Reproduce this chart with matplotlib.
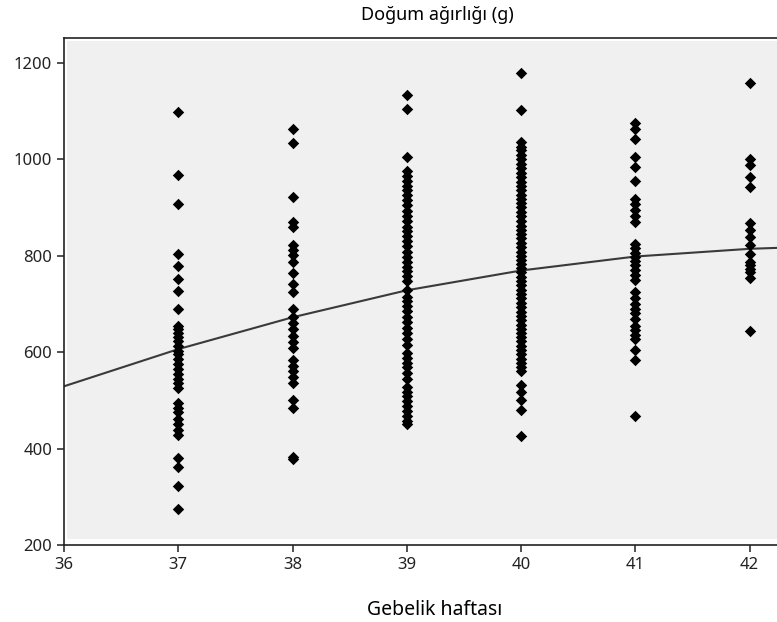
import matplotlib.pyplot as plt
from matplotlib.patches import Rectangle

# birth weight (g) per gestational week
weeks = [37, 38, 39, 40, 41, 42]

w37 = [1098, 967, 907, 803, 778, 752, 727, 690, 655, 648, 640, 632, 622, 612, 603,
       595, 585, 575, 565, 555, 545, 535, 525, 495, 485, 475, 462, 450, 438, 427,
       380, 362, 322, 274]
w38 = [1063, 1034, 922, 870, 860, 822, 811, 801, 787, 763, 742, 725, 690, 673, 660,
       647, 633, 620, 608, 583, 572, 560, 548, 535, 500, 483, 383, 378]
w39 = [1133, 1103, 1005, 975, 965, 955, 945, 935, 925, 915, 905, 893, 882, 872, 860,
       850, 840, 830, 820, 808, 797, 787, 777, 768, 758, 748, 728, 715, 705, 695,
       685, 673, 662, 650, 640, 628, 615, 598, 588, 578, 568, 557, 545, 528, 518,
       508, 498, 488, 478, 468, 458, 450]
w40 = [1178, 1101, 1035, 1026, 1018, 1009, 1000, 990, 981, 972, 962, 953, 944, 935,
       926, 918, 909, 900, 890, 881, 871, 862, 853, 844, 836, 827, 818, 808, 800,
       791, 782, 774, 765, 756, 747, 738, 729, 720, 711, 702, 693, 684, 675, 666,
       657, 648, 640, 631, 622, 613, 604, 595, 586, 577, 568, 560, 532, 518, 500,
       480, 426]
w41 = [1074, 1063, 1041, 1005, 983, 955, 918, 906, 895, 882, 870, 825, 815, 805, 797,
       788, 780, 770, 760, 750, 725, 713, 700, 690, 680, 668, 655, 645, 635, 628,
       604, 583, 467]
w42 = [1157, 1001, 988, 963, 943, 867, 853, 839, 822, 804, 787, 780, 773, 766, 753, 644]

# fitted curve, read at whole weeks and at the right edge
curve_x = [36, 37, 38, 39, 40, 41, 42, 42.25]
curve_y = [529, 606, 672, 728, 769, 798, 814, 816]

plt.rcParams['font.family'] = ['Noto Sans', 'DejaVu Sans']

fig = plt.figure(figsize=(7.77, 6.22), dpi=100)
ax = fig.add_axes([64 / 777, 77 / 622, 1 - 64 / 777, (545 - 38) / 622])

# light grey plot area, slightly inset from the frame
ax.add_patch(Rectangle((0.004, 0.012), 0.996, 0.983, transform=ax.transAxes,
                       facecolor='#f0f0f0', edgecolor='none', zorder=0))

for wk, vals in zip(weeks, [w37, w38, w39, w40, w41, w42]):
    ax.scatter([wk] * len(vals), vals, marker='D', s=34, color='black',
               linewidths=0, zorder=3)

ax.plot(curve_x, curve_y, color='#3a3a3a', linewidth=1.5, zorder=2)

ax.set_xlim(36, 42.24)
ax.set_ylim(200, 1251)
ax.set_xticks([36, 37, 38, 39, 40, 41, 42])
ax.set_yticks([200, 400, 600, 800, 1000, 1200])
ax.spines['right'].set_visible(False)
for s in ['left', 'top', 'bottom']:
    ax.spines[s].set_linewidth(1.2)
    ax.spines[s].set_color('#222222')
ax.tick_params(direction='out', length=5, width=1.1, labelsize=12, colors='#222222')

fig.text(437 / 777, 1 - 15 / 622, 'Doğum ağırlığı (g)', ha='center', va='center', fontsize=13)
fig.text(435 / 777, 1 - 610 / 622, 'Gebelik haftası', ha='center', va='center', fontsize=14)

fig.savefig('out.png', dpi=100)
